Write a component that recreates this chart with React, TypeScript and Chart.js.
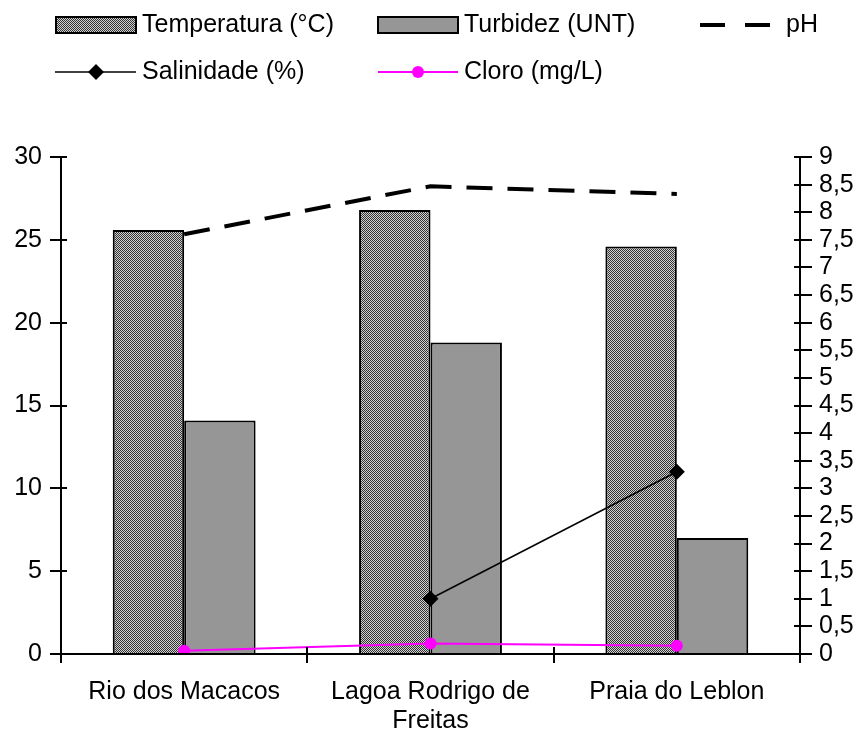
import React, { useEffect, useRef } from 'react';
import { Chart, registerables } from 'chart.js';

Chart.register(...registerables);

const categories: string[][] = [['Rio dos Macacos'], ['Lagoa Rodrigo de', 'Freitas'], ['Praia do Leblon']];
const seriesNames = ['Temperatura (°C)', 'Turbidez (UNT)', 'pH', 'Salinidade (%)', 'Cloro (mg/L)'];
const temperatura = [25.6, 26.8, 24.6];
const turbidez = [14.1, 18.8, 7.0];
const ph = [7.6, 8.47, 8.33];
const salinidade: (number | null)[] = [null, 1.0, 3.3];
const cloro = [0.06, 0.19, 0.15];
const leftAxis = { min: 0, max: 30, step: 5 };
const rightAxis = { min: 0, max: 9, step: 0.5 };

const FONT = '"Liberation Sans", Arial, sans-serif';
const FONT_SIZE = 25;

function makePattern(ctx: CanvasRenderingContext2D) {
  const c = document.createElement('canvas');
  c.width = 2;
  c.height = 2;
  const g = c.getContext('2d')!;
  g.fillStyle = '#d0d0d0';
  g.fillRect(0, 0, 2, 2);
  g.fillStyle = '#333333';
  g.fillRect(0, 0, 1, 1);
  g.fillRect(1, 1, 1, 1);
  return ctx.createPattern(c, 'repeat')!;
}

const axesPlugin = {
  id: 'crossAxes',
  afterDraw(chart: any) {
    const { ctx, chartArea: ca, scales } = chart;
    const y = scales.y;
    const y1 = scales.y1;
    const x = scales.x;
    ctx.save();
    ctx.strokeStyle = '#000';
    ctx.lineWidth = 2;
    ctx.beginPath();
    ctx.moveTo(ca.left, ca.top);
    ctx.lineTo(ca.left, ca.bottom);
    ctx.moveTo(ca.right, ca.top);
    ctx.lineTo(ca.right, ca.bottom);
    ctx.moveTo(ca.left, ca.bottom);
    ctx.lineTo(ca.right, ca.bottom);
    y.ticks.forEach((t: any) => {
      const p = Math.round(y.getPixelForValue(t.value));
      ctx.moveTo(ca.left - 11, p);
      ctx.lineTo(ca.left + 6, p);
    });
    y1.ticks.forEach((t: any) => {
      const p = Math.round(y1.getPixelForValue(t.value));
      ctx.moveTo(ca.right - 6, p);
      ctx.lineTo(ca.right + 12, p);
    });
    const n = x.ticks.length;
    for (let i = 0; i <= n; i++) {
      const p = Math.round(x.getPixelForValue(i - 0.5));
      ctx.moveTo(p, ca.bottom - 7);
      ctx.lineTo(p, ca.bottom + 9);
    }
    ctx.stroke();
    ctx.restore();
  },
};

const legendPlugin = {
  id: 'customLegend',
  afterDraw(chart: any) {
    const { ctx } = chart;
    const ds = chart.data.datasets;
    ctx.save();
    ctx.font = `${FONT_SIZE}px ${FONT}`;
    ctx.textBaseline = 'middle';
    ctx.textAlign = 'left';
    const row1 = 25;
    const row2 = 72;
    // Temperatura
    ctx.fillStyle = ds[0].backgroundColor;
    ctx.fillRect(56, row1 - 8, 80, 16);
    ctx.strokeStyle = '#000';
    ctx.lineWidth = 2;
    ctx.strokeRect(56, row1 - 8, 80, 16);
    ctx.fillStyle = '#000';
    ctx.fillText(ds[0].label, 142, row1);
    // Turbidez
    ctx.fillStyle = ds[1].backgroundColor;
    ctx.fillRect(378, row1 - 8, 80, 16);
    ctx.strokeRect(378, row1 - 8, 80, 16);
    ctx.fillStyle = '#000';
    ctx.fillText(ds[1].label, 464, row1);
    // pH
    ctx.lineWidth = 4;
    ctx.beginPath();
    ctx.moveTo(700, row1);
    ctx.lineTo(725, row1);
    ctx.moveTo(745, row1);
    ctx.lineTo(770, row1);
    ctx.stroke();
    ctx.fillText(ds[2].label, 786, row1);
    // Salinidade
    ctx.lineWidth = 1.5;
    ctx.beginPath();
    ctx.moveTo(55, row2);
    ctx.lineTo(136, row2);
    ctx.stroke();
    ctx.beginPath();
    ctx.moveTo(96, row2 - 8);
    ctx.lineTo(104, row2);
    ctx.lineTo(96, row2 + 8);
    ctx.lineTo(88, row2);
    ctx.closePath();
    ctx.fill();
    ctx.fillText(ds[3].label, 142, row2);
    // Cloro
    ctx.strokeStyle = ds[4].borderColor;
    ctx.fillStyle = ds[4].borderColor;
    ctx.lineWidth = 2;
    ctx.beginPath();
    ctx.moveTo(378, row2);
    ctx.lineTo(458, row2);
    ctx.stroke();
    ctx.beginPath();
    ctx.arc(418, row2, 6, 0, Math.PI * 2);
    ctx.fill();
    ctx.fillStyle = '#000';
    ctx.fillText(ds[4].label, 464, row2);
    ctx.restore();
  },
};

export default function App() {
  const ref = useRef<HTMLCanvasElement>(null);
  useEffect(() => {
    const canvas = ref.current!;
    const ctx = canvas.getContext('2d')!;
    const pattern = makePattern(ctx);
    const xFont = { family: FONT, size: FONT_SIZE, lineHeight: 1.15 };
    const yFont = { family: FONT, size: FONT_SIZE, lineHeight: 1 };
    const chart = new Chart(canvas, {
      type: 'bar',
      data: {
        labels: categories as any,
        datasets: [
          {
            type: 'bar',
            label: seriesNames[0],
            data: temperatura,
            backgroundColor: pattern as any,
            borderColor: '#000',
            borderWidth: 2,
            yAxisID: 'y',
            order: 2,
            categoryPercentage: 0.58,
            barPercentage: 1,
          },
          {
            type: 'bar',
            label: seriesNames[1],
            data: turbidez,
            backgroundColor: '#969696',
            borderColor: '#000',
            borderWidth: 2,
            yAxisID: 'y',
            order: 2,
            categoryPercentage: 0.58,
            barPercentage: 1,
          },
          {
            type: 'line',
            label: seriesNames[2],
            data: ph,
            borderColor: '#000',
            borderWidth: 4,
            borderDash: [26, 15],
            pointRadius: 0,
            fill: false,
            yAxisID: 'y1',
            order: 1,
          },
          {
            type: 'line',
            label: seriesNames[3],
            data: salinidade,
            borderColor: '#000',
            backgroundColor: '#000',
            borderWidth: 1.5,
            pointStyle: 'rectRot',
            pointRadius: 8,
            pointBorderWidth: 0,
            fill: false,
            yAxisID: 'y1',
            order: 1,
          },
          {
            type: 'line',
            label: seriesNames[4],
            data: cloro,
            borderColor: '#ff00ff',
            backgroundColor: '#ff00ff',
            borderWidth: 2,
            pointStyle: 'circle',
            pointRadius: 6,
            pointBorderWidth: 0,
            fill: false,
            yAxisID: 'y1',
            order: 1,
          },
        ] as any,
      },
      options: {
        responsive: false,
        animation: false,
        layout: { padding: { top: 157, left: 0, right: 0, bottom: 0 } },
        plugins: { legend: { display: false }, tooltip: { enabled: false } },
        scales: {
          x: {
            type: 'category',
            offset: true,
            grid: { display: false, drawTicks: false },
            border: { display: false },
            ticks: { color: '#000', font: xFont, padding: 24, maxRotation: 0, autoSkip: false },
            afterFit: (s: any) => {
              s.height = 83;
            },
          },
          y: {
            position: 'left',
            min: leftAxis.min,
            max: leftAxis.max,
            grid: { display: false, drawTicks: false },
            border: { display: false },
            ticks: { stepSize: leftAxis.step, color: '#000', font: yFont, padding: 19, autoSkip: false },
            afterFit: (s: any) => {
              s.width = 61;
            },
          },
          y1: {
            position: 'right',
            min: rightAxis.min,
            max: rightAxis.max,
            grid: { display: false, drawTicks: false },
            border: { display: false },
            ticks: {
              stepSize: rightAxis.step,
              color: '#000',
              font: yFont,
              padding: 19,
              autoSkip: false,
              callback: (v: any) => String(Number(v)).replace('.', ','),
            },
            afterFit: (s: any) => {
              s.width = 59;
            },
          },
        },
      } as any,
      plugins: [axesPlugin, legendPlugin],
    });
    return () => chart.destroy();
  }, []);
  return (
    <div style={{ position: 'absolute', left: 0, top: 0, width: 859, height: 737, background: '#fff' }}>
      <canvas ref={ref} width={859} height={737} style={{ display: 'block' }} />
    </div>
  );
}
